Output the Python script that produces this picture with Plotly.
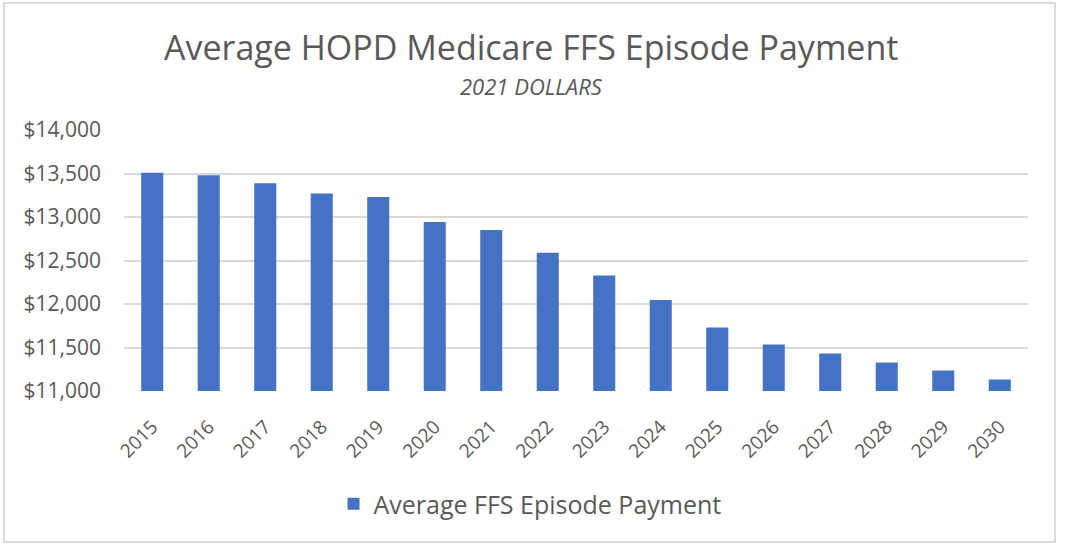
import plotly.graph_objects as go

years = [str(y) for y in range(2015, 2031)]
payments = [13510, 13481, 13388, 13269, 13231, 12942, 12850, 12588,
            12327, 12046, 11731, 11535, 11431, 11327, 11235, 11131]
y_ticks = [11000, 11500, 12000, 12500, 13000, 13500, 14000]
y_tick_labels = ["$11,000", "$11,500", "$12,000", "$12,500", "$13,000", "$13,500", "$14,000"]

FONT = "Open Sans"
GRAY = "#595959"

fig = go.Figure()
fig.add_trace(go.Bar(
    x=years, y=payments, name="Average FFS Episode Payment",
    marker=dict(color="#4472C4", line=dict(width=0)),
    showlegend=True,
))

L, R, T, B = 124, 40, 130, 158
W, H = 1068, 549
pw, ph = W - L - R, H - T - B

def px_x(x):
    return (x - L) / pw

def px_y(y):
    return (H - B - y) / ph

fig.update_layout(
    width=W, height=H,
    margin=dict(l=L, r=R, t=T, b=B, autoexpand=False),
    paper_bgcolor="white", plot_bgcolor="white",
    bargap=0.61,
    font=dict(family=FONT, color=GRAY),
    xaxis=dict(
        tickangle=-45, tickfont=dict(size=19, color=GRAY, family=FONT),
        showgrid=False, showline=False, ticks="", ticklabelstandoff=20,
    ),
    yaxis=dict(
        range=[11000, 14000], tickvals=y_ticks, ticktext=y_tick_labels,
        tickfont=dict(size=21, color=GRAY, family=FONT),
        showgrid=True, gridcolor="#d9d9d9", gridwidth=1.5,
        zeroline=False, showline=False, ticks="", ticklabelstandoff=22,
    ),
    showlegend=True,
    legend=dict(
        orientation="h", x=px_x(530), xanchor="center",
        y=px_y(504), yanchor="middle",
        font=dict(size=25, color=GRAY, family=FONT),
        itemwidth=30,
    ),
    annotations=[
        dict(text="Average HOPD Medicare FFS Episode Payment",
             x=px_x(531), y=px_y(47), xref="paper", yref="paper",
             xanchor="center", yanchor="middle", showarrow=False,
             font=dict(size=34, color=GRAY, family=FONT)),
        dict(text="<i>2021 DOLLARS</i>",
             x=px_x(531), y=px_y(86), xref="paper", yref="paper",
             xanchor="center", yanchor="middle", showarrow=False,
             font=dict(size=22, color=GRAY, family=FONT)),
    ],
    shapes=[
        dict(type="rect", xref="paper", yref="paper",
             x0=px_x(4), x1=px_x(1055), y0=px_y(542), y1=px_y(3),
             line=dict(color="#d0d0d0", width=1.5), fillcolor="rgba(0,0,0,0)",
             layer="below"),
    ],
)

fig.write_html("out.html", config={"displayModeBar": False},
               post_script="document.body.style.margin='0';document.body.style.overflow='hidden';")
